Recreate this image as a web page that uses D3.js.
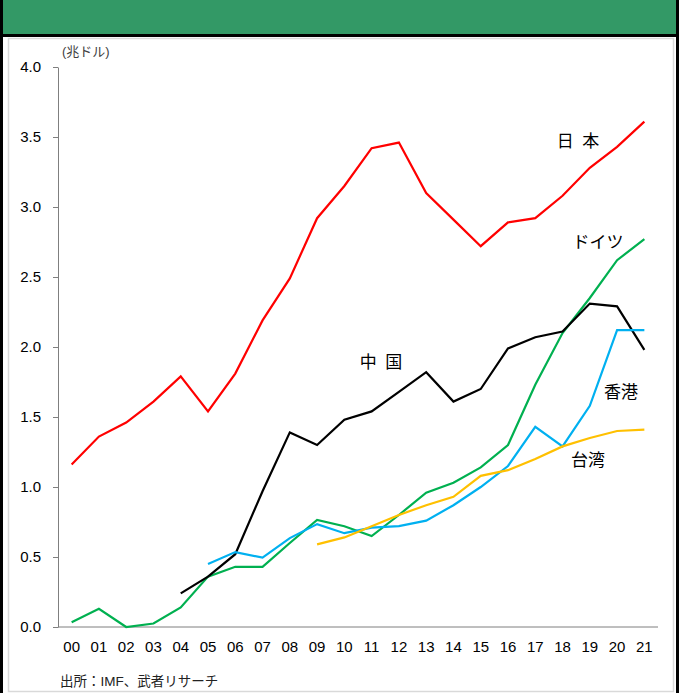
<!DOCTYPE html>
<html>
<head>
<meta charset="utf-8">
<script src="https://cdn.jsdelivr.net/npm/d3@7"></script>
<style>
  body { margin: 0; background: #fff; }
  svg { display: block; font-family: Arial, "Liberation Sans", "Noto Sans CJK JP", sans-serif; }
  .axis text { font-size: 15px; fill: #000; }
  .axis path, .axis line { stroke: #7f7f7f; }
  .line { fill: none; stroke-width: 2.2; stroke-linejoin: miter; }
</style>
</head>
<body>
<svg id="chart" width="679" height="693"></svg>
<script>
/*    ========    DATA    =========    */

var years = ["00","01","02","03","04","05","06","07","08","09","10",
             "11","12","13","14","15","16","17","18","19","20","21"];
var yTicks = [0, 0.5, 1.0, 1.5, 2.0, 2.5, 3.0, 3.5, 4.0];

// null = no data for that year
var japan = [1.16,1.36,1.46,1.61,1.79,1.54,1.81,2.19,2.49,2.92,3.15,
             3.42,3.46,3.10,2.91,2.72,2.89,2.92,3.08,3.28,3.43,3.61];
var germany = [0.034,0.13,0.0,0.025,0.14,0.36,0.43,0.43,0.60,0.765,0.72,
               0.65,0.80,0.96,1.03,1.14,1.30,1.73,2.10,2.35,2.62,2.77];
var china = [null,null,null,null,0.24,0.36,0.52,0.97,1.39,1.30,1.48,
             1.54,1.68,1.82,1.61,1.70,1.99,2.07,2.11,2.31,2.29,1.98];
var hongkong = [null,null,null,null,null,0.45,0.535,0.495,0.635,0.735,0.67,
                0.71,0.72,0.76,0.87,1.00,1.15,1.43,1.29,1.58,2.12,2.12];
var taiwan = [null,null,null,null,null,null,null,null,null,0.59,0.64,
              0.72,0.80,0.87,0.93,1.08,1.12,1.20,1.29,1.35,1.40,1.41];

var series = [
    { name: "日\u2002本", values: japan, color: "#ff0000", lx: 578, ly: 147 },
    { name: "ドイツ", values: germany, color: "#00b050", lx: 598, ly: 248 },
    { name: "中\u2002国", values: china, color: "#000000", lx: 381, ly: 368 },
    { name: "香港", values: hongkong, color: "#00b0f0", lx: 621, ly: 398 },
    { name: "台湾", values: taiwan, color: "#ffc000", lx: 588, ly: 466 }
];

/*    ========    SETTINGS    =========    */

var svg = d3.select("#chart");
var width = 679, height = 693;

var plotLeft = 58, plotRight = 658, plotTop = 67, plotBottom = 627;

/*    ========    FRAME    =========    */

// inner light grey frame
svg.append("rect")
    .attr("x", 8.5).attr("y", 38.5)
    .attr("width", 665).attr("height", 653)
    .attr("fill", "#fff")
    .attr("stroke", "#d9d9d9").attr("stroke-width", 1.5);

// green header
svg.append("rect")
    .attr("x", 0).attr("y", 0)
    .attr("width", width).attr("height", 35)
    .attr("fill", "#339966");
svg.append("rect")
    .attr("x", 0).attr("y", 34)
    .attr("width", width).attr("height", 3)
    .attr("fill", "#000");
// black outer sides
svg.append("rect").attr("x", 0).attr("y", 0).attr("width", 3).attr("height", height).attr("fill", "#000");
svg.append("rect").attr("x", 676).attr("y", 0).attr("width", 3).attr("height", height).attr("fill", "#000");

/*    ========    SCALES / AXES    =========    */

var xscale = d3.scaleBand().domain(years).range([plotLeft, plotRight]);
var yscale = d3.scaleLinear().domain([0, 4]).range([plotBottom, plotTop]);

var xAxis = d3.axisBottom(xscale).tickSize(0).tickPadding(14);
var yAxis = d3.axisLeft(yscale).tickValues(yTicks)
    .tickFormat(d3.format(".1f")).tickSize(5).tickSizeOuter(0).tickPadding(12);

svg.append("g")
    .attr("class", "axis")
    .attr("transform", "translate(" + plotLeft + ",0)")
    .call(yAxis);

svg.append("g")
    .attr("class", "axis")
    .attr("transform", "translate(0," + plotBottom + ")")
    .call(xAxis)
    .call(function(g) { g.select(".domain").attr("d", "M" + plotLeft + ",0H" + plotRight); });

svg.append("text")
    .attr("x", 62).attr("y", 56)
    .attr("font-size", 13).attr("fill", "#404040")
    .text("(兆ドル)");

/*    ========    LINES    =========    */

var lineGen = d3.line()
    .defined(function(d) { return d != null; })
    .x(function(d, i) { return xscale(years[i]) + xscale.bandwidth() / 2; })
    .y(function(d) { return yscale(d); });

series.forEach(function(s) {
    svg.append("path")
        .datum(s.values)
        .attr("class", "line")
        .attr("stroke", s.color)
        .attr("d", lineGen);

    svg.append("text")
        .attr("x", s.lx).attr("y", s.ly)
        .attr("text-anchor", "middle")
        .attr("font-size", 17).attr("fill", "#000")
        .text(s.name);
});

svg.append("text")
    .attr("x", 60).attr("y", 686)
    .attr("font-size", 13.5).attr("fill", "#222")
    .text("出所：IMF、武者リサーチ");
</script>
</body>
</html>
